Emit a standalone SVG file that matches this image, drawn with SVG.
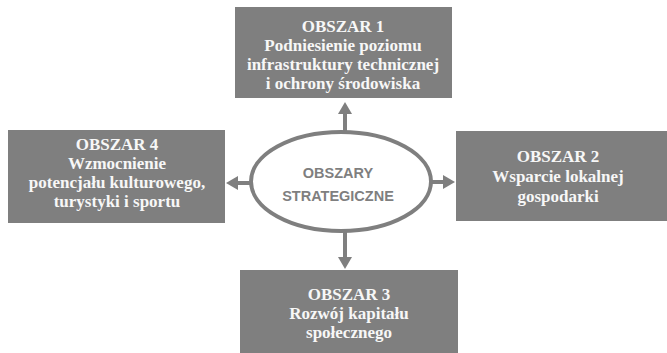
<svg xmlns="http://www.w3.org/2000/svg" width="667" height="353" viewBox="0 0 667 353">
<defs>
<style>
.box{fill:#7f7f7f}
.bt{font-family:"Liberation Serif","Times New Roman",serif;font-weight:bold;font-size:17px;fill:#f7f7f7;text-anchor:middle}
.et{font-family:"Liberation Sans",Arial,sans-serif;font-weight:bold;font-size:14.5px;fill:#7f7f7f;text-anchor:middle}
.arr{stroke:#7f7f7f;stroke-width:4;fill:none;marker-end:url(#ah)}
</style>
<marker id="ah" markerUnits="userSpaceOnUse" markerWidth="12" markerHeight="14" refX="3" refY="7" orient="auto">
<path d="M0,0 L12,7 L0,14 z" fill="#7f7f7f"/>
</marker>
</defs>
<rect width="667" height="353" fill="#ffffff"/>
<g id="connectors">
<line class="arr" x1="345" y1="131" x2="345" y2="111"/>
<line class="arr" x1="250" y1="183" x2="235" y2="183"/>
<line class="arr" x1="432" y1="182" x2="446" y2="182"/>
<line class="arr" x1="345" y1="232" x2="345" y2="260"/>
</g>
<g id="center">
<ellipse cx="341" cy="181.5" rx="90" ry="49.5" fill="#ffffff" stroke="#7f7f7f" stroke-width="4"/>
<text class="et" x="338" y="178">OBSZARY</text>
<text class="et" x="338" y="201">STRATEGICZNE</text>
</g>
<g id="obszar1">
<rect class="box" x="235" y="7" width="217" height="91"/>
<text class="bt" x="343" y="32">OBSZAR 1</text>
<text class="bt" x="343" y="51">Podniesienie poziomu</text>
<text class="bt" x="343" y="70">infrastruktury technicznej</text>
<text class="bt" x="343" y="89">i ochrony środowiska</text>
</g>
<g id="obszar4">
<rect class="box" x="8" y="130" width="217" height="93"/>
<text class="bt" x="117" y="150">OBSZAR 4</text>
<text class="bt" x="117" y="169">Wzmocnienie</text>
<text class="bt" x="117" y="188">potencjału kulturowego,</text>
<text class="bt" x="117" y="207">turystyki i sportu</text>
</g>
<g id="obszar2">
<rect class="box" x="456" y="131" width="211" height="90"/>
<text class="bt" x="558" y="162">OBSZAR 2</text>
<text class="bt" x="558" y="182">Wsparcie lokalnej</text>
<text class="bt" x="558" y="202">gospodarki</text>
</g>
<g id="obszar3">
<rect class="box" x="240" y="270" width="218" height="83"/>
<text class="bt" x="349" y="300">OBSZAR 3</text>
<text class="bt" x="349" y="319">Rozwój kapitału</text>
<text class="bt" x="349" y="338">społecznego</text>
</g>
</svg>
